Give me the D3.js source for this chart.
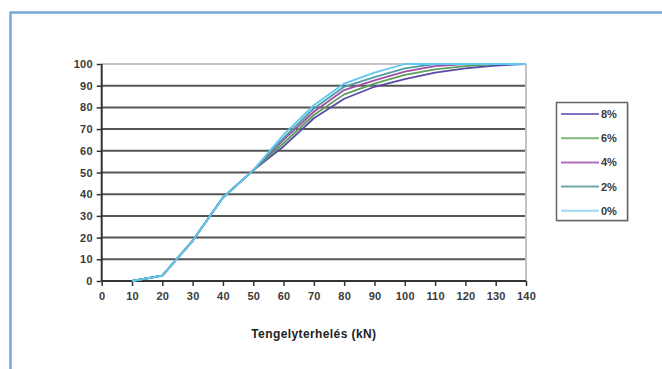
<!DOCTYPE html>
<html><head><meta charset="utf-8">
<script src="https://cdn.jsdelivr.net/npm/d3@7"></script>
<style>
html,body{margin:0;padding:0;background:#fff;}
svg{display:block;font-family:"Liberation Sans",Arial,sans-serif;}
</style></head>
<body><svg id="c" width="662" height="369"></svg>
<script>
const xValues = [10, 20, 30, 40, 50, 60, 70, 80, 90, 100, 110, 120, 130, 140];
const seriesNames = ["8%", "6%", "4%", "2%", "0%"];
const s8 = [0, 2.5, 18.5, 38.5, 51, 62, 75, 84, 89.5, 93, 96, 98, 99.3, 100];
const s6 = [0, 2.5, 18.5, 38.5, 51, 63.5, 76.5, 86, 91, 95, 97.5, 99, 100, 100];
const s4 = [0, 2.5, 18.5, 38.5, 51, 65, 78, 88, 92.5, 96.5, 99, 100, 100, 100];
const s2 = [0, 2.5, 18.5, 38.5, 51, 66, 79.5, 89.5, 94, 98, 100, 100, 100, 100];
const s0 = [0, 2.5, 18.5, 38.5, 51, 67.5, 81, 91, 96, 100, 100, 100, 100, 100];
const xTicks = [0,10,20,30,40,50,60,70,80,90,100,110,120,130,140];
const yTicks = [0,10,20,30,40,50,60,70,80,90,100];
const xTitle = "Tengelyterhelés (kN)";

const seriesValues = [s8, s6, s4, s2, s0];
const colors = ["#574aa6", "#5c9e5c", "#a04ea6", "#4e9ea6", "#5ec8f0"];
const legendColors = ["#7d72c4", "#7db87d", "#b06cb8", "#6eaaac", "#9ad8f6"];

const svg = d3.select("#c");
// outer frame (top and left)
svg.append("line").attr("x1",10).attr("x2",662).attr("y1",12.5).attr("y2",12.5)
  .attr("stroke","#7aa4da").attr("stroke-width",2.5);
svg.append("line").attr("x1",10.5).attr("x2",10.5).attr("y1",12).attr("y2",369)
  .attr("stroke","#7aa4da").attr("stroke-width",2.5);

const x = d3.scaleLinear().domain([0,140]).range([101.7, 526]);
const y = d3.scaleLinear().domain([0,100]).range([281, 64]);

// gridlines
svg.append("g").selectAll("line").data(yTicks.filter(d=>d>0)).join("line")
  .attr("x1", x(0)).attr("x2", x(140))
  .attr("y1", d=>y(d)).attr("y2", d=>y(d))
  .attr("stroke", d=> d===100 ? "#c4c4c4" : "#555")
  .attr("stroke-width", 2);
// right border of plot
svg.append("line").attr("x1",x(140)).attr("x2",x(140)).attr("y1",y(100)).attr("y2",y(0))
  .attr("stroke","#c4c4c4").attr("stroke-width",2);

// axes
const yAxis = d3.axisLeft(y).tickValues(yTicks).tickSize(5).tickPadding(4);
const gy = svg.append("g").attr("transform",`translate(${x(0)},0)`).call(yAxis);
const xAxis = d3.axisBottom(x).tickValues(xTicks).tickSize(5).tickPadding(6);
const gx = svg.append("g").attr("transform",`translate(0,${y(0)})`).call(xAxis);
[gy,gx].forEach(g=>{
  g.select(".domain").attr("stroke","#333").attr("stroke-width",2);
  g.selectAll(".tick line").attr("stroke","#333").attr("stroke-width",1.5);
  g.selectAll(".tick text").attr("fill","#3a3a3a").style("font-size","11px")
   .style("font-weight","bold")
   .style("font-family","'Liberation Sans',Arial,sans-serif").style("letter-spacing","0.2px");
});
gx.select(".domain").attr("d", `M${x(0)},0H${x(140)}`);
gy.select(".domain").attr("d", `M0,${y(0)}V${y(100)}`);

// series lines
const line = d3.line().x((d,i)=>x(xValues[i])).y(d=>y(d));
svg.append("g").selectAll("path").data(seriesValues).join("path")
  .attr("d", d=>line(d)).attr("fill","none")
  .attr("stroke",(d,i)=>colors[i]).attr("stroke-width",1.8)
  .attr("stroke-linejoin","round");

// x title
svg.append("text").attr("x", (x(0)+x(140))/2).attr("y", 338)
  .attr("text-anchor","middle").attr("fill","#222")
  .style("font-size","12px").style("font-weight","bold").style("letter-spacing","0.4px")
  .text(xTitle);

// legend
const lg = svg.append("g");
lg.append("rect").attr("x",557.5).attr("y",103.5).attr("width",71).attr("height",118)
  .attr("fill","#bbb");
lg.append("rect").attr("x",556.5).attr("y",102.5).attr("width",71).attr("height",118)
  .attr("fill","#fff").attr("stroke","#666").attr("stroke-width",1.5);
const items = lg.selectAll("g.item").data(seriesNames).join("g")
  .attr("transform",(d,i)=>`translate(0,${114 + i*24.2})`);
items.append("line").attr("x1",561).attr("x2",599).attr("y1",0).attr("y2",0)
  .attr("stroke",(d,i)=>legendColors[i]).attr("stroke-width",2);
items.append("text").attr("x",601).attr("y",4).attr("fill","#3a3a3a")
  .style("font-size","11px").style("font-weight","bold").text(d=>d);
</script></body></html>
